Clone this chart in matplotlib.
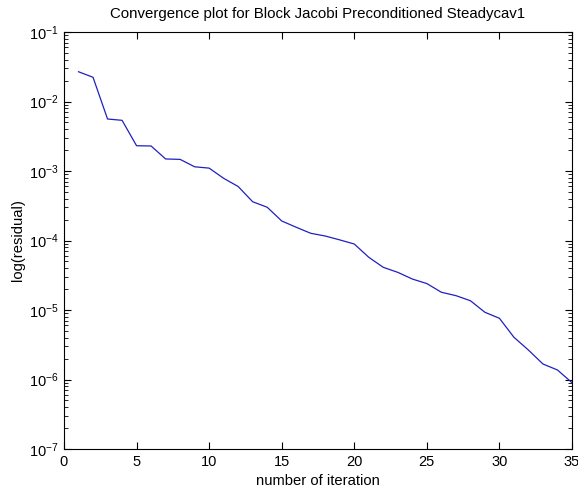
import numpy as np
import matplotlib
matplotlib.use('Agg')
import matplotlib.pyplot as plt
from matplotlib.ticker import LogLocator, NullFormatter

plt.rcParams['font.family'] = ['Liberation Sans', 'DejaVu Sans']
plt.rcParams['mathtext.fontset'] = 'custom'
plt.rcParams['mathtext.rm'] = 'Liberation Sans'
plt.rcParams['mathtext.it'] = 'Liberation Sans'

# residual per iteration
iterations = list(range(1, 36))
residuals = [2.68e-2, 2.23e-2, 5.6e-3, 5.36e-3, 2.31e-3, 2.29e-3, 1.49e-3,
             1.47e-3, 1.15e-3, 1.10e-3, 7.85e-4, 5.98e-4, 3.61e-4, 3.01e-4,
             1.91e-4, 1.55e-4, 1.27e-4, 1.16e-4, 1.02e-4, 8.9e-5, 5.73e-5,
             4.11e-5, 3.48e-5, 2.79e-5, 2.40e-5, 1.80e-5, 1.61e-5, 1.36e-5,
             9.27e-6, 7.60e-6, 4.05e-6, 2.65e-6, 1.67e-6, 1.37e-6, 9.0e-7]

fig = plt.figure(figsize=(5.78, 4.9), dpi=100)
ax = fig.add_axes([64/578, 1-449/490, (572-64)/578, (449-32)/490])

ax.semilogy(iterations, residuals, color='#2020c0', lw=0.9)

ax.set_xlim(0, 35)
ax.set_ylim(1e-7, 1e-1)
ax.set_xticks(range(0, 36, 5))
ax.yaxis.set_major_locator(LogLocator(base=10, numticks=10))
ax.yaxis.set_minor_locator(LogLocator(base=10, subs=np.arange(2, 10), numticks=20))
ax.yaxis.set_minor_formatter(NullFormatter())

ax.tick_params(which='both', direction='in', top=True, right=True, labelsize=10.5, pad=4)
ax.tick_params(which='major', length=5, width=0.8)
ax.tick_params(which='minor', length=3, width=0.6)
for s in ax.spines.values():
    s.set_linewidth(0.8)

ax.set_title('Convergence plot for Block Jacobi Preconditioned Steadycav1', fontsize=10.8, pad=10)
ax.set_xlabel('number of iteration', fontsize=10.6, labelpad=4)
ax.set_ylabel('log(residual)', fontsize=10.6, labelpad=3)

fig.savefig('out.png', dpi=100)
